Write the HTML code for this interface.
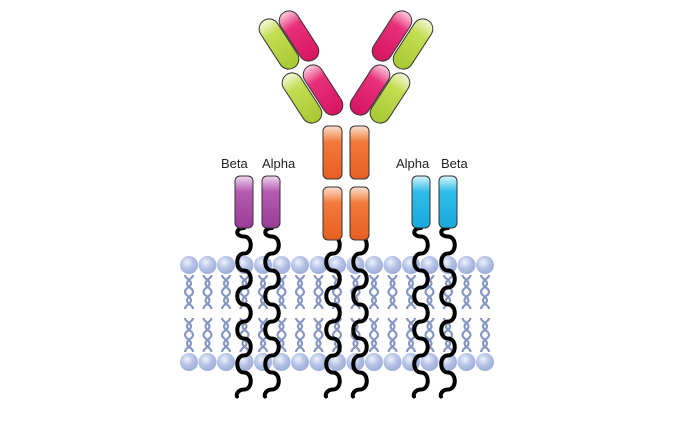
<!DOCTYPE html>
<html><head><meta charset="utf-8"><style>
html,body{margin:0;padding:0;background:#fff;}
svg{display:block}
text{font-family:"Liberation Sans",sans-serif;font-size:13px;fill:#222}
</style></head><body>
<svg width="699" height="427" viewBox="0 0 699 427" xmlns="http://www.w3.org/2000/svg">
<defs>
<radialGradient id="head" cx="0.4" cy="0.35" r="0.7"><stop offset="0" stop-color="#eef2fb"/><stop offset="0.5" stop-color="#b6c3e6"/><stop offset="1" stop-color="#9aaad6"/></radialGradient>
<linearGradient id="gr" x1="0" y1="0" x2="0" y2="1"><stop offset="0" stop-color="#f4fadc"/><stop offset="0.3" stop-color="#c4dc52"/><stop offset="1" stop-color="#a8c832"/></linearGradient>
<linearGradient id="pk" x1="0" y1="0" x2="0" y2="1"><stop offset="0" stop-color="#fbd0e0"/><stop offset="0.3" stop-color="#e8307a"/><stop offset="1" stop-color="#d61460"/></linearGradient>
<linearGradient id="or" x1="0" y1="0" x2="0" y2="1"><stop offset="0" stop-color="#fde0d0"/><stop offset="0.3" stop-color="#f27a3a"/><stop offset="1" stop-color="#e85e22"/></linearGradient>
<linearGradient id="pu" x1="0" y1="0" x2="0" y2="1"><stop offset="0" stop-color="#f0d8f0"/><stop offset="0.3" stop-color="#b45cb0"/><stop offset="1" stop-color="#9a3c98"/></linearGradient>
<linearGradient id="bl" x1="0" y1="0" x2="0" y2="1"><stop offset="0" stop-color="#d8f4fc"/><stop offset="0.3" stop-color="#30bde8"/><stop offset="1" stop-color="#18a8dc"/></linearGradient>
<g id="tail" fill="none" stroke="#8696c2" stroke-width="2.2">
<path d="M-4,0 c0,4 6,4 6,8.5 c0,4 -6,4 -6,8.5 c0,4 6,4 6,8.5 c0,4 -6,4 -6,8.5"/>
<path d="M4,0 c0,4 -6,4 -6,8.5 c0,4 6,4 6,8.5 c0,4 -6,4 -6,8.5 c0,4 6,4 6,8.5"/>
</g>
<path id="wave" fill="none" stroke="#000" stroke-width="4" stroke-linecap="round" d="M0,0 c-9,0 -9,8.5 0,8.5 c9,0 9,17 0,17 c-9,0 -9,17 0,17 c9,0 9,17 0,17 c-9,0 -9,17 0,17 c9,0 9,17 0,17 c-9,0 -9,17 0,17 c9,0 9,17 0,17 c-9,0 -9,17 0,17 c9,0 9,17 0,17 c-6,0 -8,5 -7,7"/>
</defs>
<g fill="url(#head)">
<circle cx="189" cy="265" r="9"/><circle cx="207.5" cy="265" r="9"/><circle cx="226" cy="265" r="9"/><circle cx="244.5" cy="265" r="9"/><circle cx="263" cy="265" r="9"/><circle cx="281.5" cy="265" r="9"/><circle cx="300" cy="265" r="9"/><circle cx="318.5" cy="265" r="9"/><circle cx="337" cy="265" r="9"/><circle cx="355.5" cy="265" r="9"/><circle cx="374" cy="265" r="9"/><circle cx="392.5" cy="265" r="9"/><circle cx="411" cy="265" r="9"/><circle cx="429.5" cy="265" r="9"/><circle cx="448" cy="265" r="9"/><circle cx="466.5" cy="265" r="9"/><circle cx="485" cy="265" r="9"/>
<circle cx="189" cy="362" r="9"/><circle cx="207.5" cy="362" r="9"/><circle cx="226" cy="362" r="9"/><circle cx="244.5" cy="362" r="9"/><circle cx="263" cy="362" r="9"/><circle cx="281.5" cy="362" r="9"/><circle cx="300" cy="362" r="9"/><circle cx="318.5" cy="362" r="9"/><circle cx="337" cy="362" r="9"/><circle cx="355.5" cy="362" r="9"/><circle cx="374" cy="362" r="9"/><circle cx="392.5" cy="362" r="9"/><circle cx="411" cy="362" r="9"/><circle cx="429.5" cy="362" r="9"/><circle cx="448" cy="362" r="9"/><circle cx="466.5" cy="362" r="9"/><circle cx="485" cy="362" r="9"/>
</g>
<g>
<use href="#tail" x="189" y="275"/><use href="#tail" x="207.5" y="275"/><use href="#tail" x="226" y="275"/><use href="#tail" x="244.5" y="275"/><use href="#tail" x="263" y="275"/><use href="#tail" x="281.5" y="275"/><use href="#tail" x="300" y="275"/><use href="#tail" x="318.5" y="275"/><use href="#tail" x="337" y="275"/><use href="#tail" x="355.5" y="275"/><use href="#tail" x="374" y="275"/><use href="#tail" x="392.5" y="275"/><use href="#tail" x="411" y="275"/><use href="#tail" x="429.5" y="275"/><use href="#tail" x="448" y="275"/><use href="#tail" x="466.5" y="275"/><use href="#tail" x="485" y="275"/>
<use href="#tail" x="189" y="318"/><use href="#tail" x="207.5" y="318"/><use href="#tail" x="226" y="318"/><use href="#tail" x="244.5" y="318"/><use href="#tail" x="263" y="318"/><use href="#tail" x="281.5" y="318"/><use href="#tail" x="300" y="318"/><use href="#tail" x="318.5" y="318"/><use href="#tail" x="337" y="318"/><use href="#tail" x="355.5" y="318"/><use href="#tail" x="374" y="318"/><use href="#tail" x="392.5" y="318"/><use href="#tail" x="411" y="318"/><use href="#tail" x="429.5" y="318"/><use href="#tail" x="448" y="318"/><use href="#tail" x="466.5" y="318"/><use href="#tail" x="485" y="318"/>
</g>
<use href="#wave" x="244" y="228"/><use href="#wave" x="272" y="228"/>
<use href="#wave" x="333" y="228"/><use href="#wave" x="360" y="228"/>
<use href="#wave" x="421" y="228"/><use href="#wave" x="448" y="228"/>
<g stroke="#333" stroke-width="1">
<rect x="235" y="176" width="18" height="52" rx="5" fill="url(#pu)"/>
<rect x="262" y="176" width="18" height="52" rx="5" fill="url(#pu)"/>
<rect x="412" y="176" width="18" height="52" rx="5" fill="url(#bl)"/>
<rect x="439" y="176" width="18" height="52" rx="5" fill="url(#bl)"/>
<rect x="323" y="126" width="19" height="53" rx="5" fill="url(#or)"/>
<rect x="350" y="126" width="19" height="53" rx="5" fill="url(#or)"/>
<rect x="323" y="187" width="19" height="53" rx="5" fill="url(#or)"/>
<rect x="350" y="187" width="19" height="53" rx="5" fill="url(#or)"/>
<rect x="-10" y="-28" width="20" height="56" rx="10" fill="url(#gr)" transform="translate(279,44) rotate(-33)"/>
<rect x="-10" y="-28" width="20" height="56" rx="10" fill="url(#pk)" transform="translate(299,36) rotate(-33)"/>
<rect x="-10" y="-28" width="20" height="56" rx="10" fill="url(#gr)" transform="translate(302,98) rotate(-33)"/>
<rect x="-10" y="-28" width="20" height="56" rx="10" fill="url(#pk)" transform="translate(323,90) rotate(-33)"/>
<rect x="-10" y="-28" width="20" height="56" rx="10" fill="url(#pk)" transform="translate(392,36) rotate(33)"/>
<rect x="-10" y="-28" width="20" height="56" rx="10" fill="url(#gr)" transform="translate(413,44) rotate(33)"/>
<rect x="-10" y="-28" width="20" height="56" rx="10" fill="url(#pk)" transform="translate(370,90) rotate(33)"/>
<rect x="-10" y="-28" width="20" height="56" rx="10" fill="url(#gr)" transform="translate(390,98) rotate(33)"/>
</g>
<text x="221" y="168">Beta</text>
<text x="262" y="168">Alpha</text>
<text x="396" y="168">Alpha</text>
<text x="441" y="168">Beta</text>
</svg>
</body></html>
